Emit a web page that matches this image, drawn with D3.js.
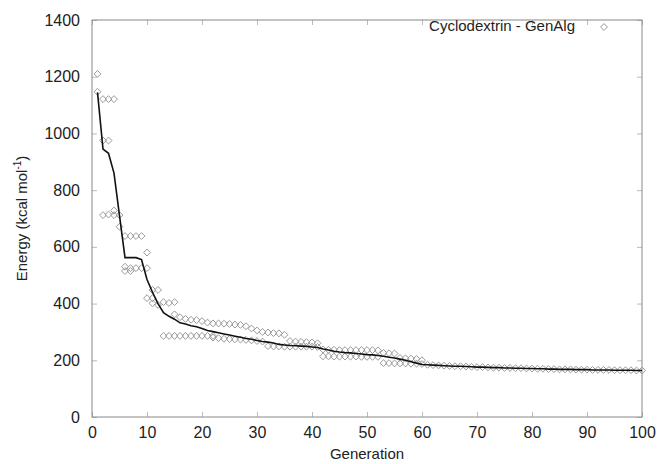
<!DOCTYPE html>
<html>
<head>
<meta charset="utf-8">
<script src="https://cdn.jsdelivr.net/npm/d3@7"></script>
<style>
  body { margin: 0; background: #fff; }
  text { font-family: "Liberation Sans", Arial, Helvetica, sans-serif; fill: #222; }
</style>
</head>
<body>
<svg width="659" height="464"></svg>
<script>
// mean energy of the population per generation (gen 1..100)
var meanEnergy = [1145, 945, 930, 860, 710, 562, 562, 562, 555, 485,
  440, 400, 368, 355, 345, 332, 328, 322, 318, 312,
  305, 301, 297, 293, 289, 285, 281, 277, 274, 270,
  266, 264, 261, 256, 254, 252, 251, 250, 249, 247,
  245, 240, 236, 232, 229, 227, 226, 224, 222, 220,
  219, 217, 214, 211, 208, 204, 200, 195, 190, 185,
  184, 183, 182, 181, 180, 179, 179, 178, 177, 176,
  176, 175, 174, 174, 173, 173, 172, 172, 171, 171,
  170, 170, 169, 169, 168, 168, 168, 167, 167, 167,
  166, 166, 166, 166, 165, 165, 165, 165, 164, 164];

// individual energies [generation, energy]
var population = [
  [1, 1210], [1, 1147],
  [2, 1121], [3, 1121], [4, 1121],
  [2, 975], [3, 975],
  [2, 712], [3, 714], [4, 728], [4, 712], [5, 712], [5, 671],
  [6, 638], [7, 638], [8, 638], [9, 638],
  [10, 580],
  [6, 530], [6, 515], [7, 525], [7, 515], [8, 525], [9, 525], [10, 525],
  [10, 419], [11, 419], [11, 448], [12, 448],
  [11, 401], [12, 395], [13, 405], [14, 402], [15, 405],
  [13, 286], [14, 286], [15, 286], [16, 286], [17, 286], [18, 286], [19, 286], [20, 286], [21, 286], [22, 286],
  [15, 362], [16, 352], [17, 346], [18, 343], [19, 342], [20, 338], [21, 333], [22, 330], [23, 330], [24, 329],
  [25, 328], [26, 326], [27, 325], [28, 320], [29, 312], [30, 305], [31, 300], [32, 298], [33, 296], [34, 295],
  [35, 290], [36, 268], [37, 266], [38, 265], [39, 264], [40, 263], [41, 260], [42, 238], [43, 237], [44, 237],
  [45, 236], [46, 236], [47, 236], [48, 236], [49, 236], [50, 236], [51, 236], [52, 235], [53, 226], [54, 225],
  [55, 224], [56, 208], [57, 207], [58, 206], [59, 205], [60, 200],
  [22, 280], [23, 278], [24, 276], [25, 275], [26, 274], [27, 273], [28, 272], [29, 270], [30, 268], [31, 266],
  [32, 250], [33, 249], [34, 249], [35, 248], [36, 248], [37, 248], [38, 248], [39, 248], [40, 248], [41, 247],
  [42, 214], [43, 214], [44, 213], [45, 213], [46, 213], [47, 213], [48, 213], [49, 212], [50, 212], [51, 212],
  [52, 212], [53, 190], [54, 190], [55, 189], [56, 189], [57, 189], [58, 188], [59, 188], [60, 187],
  [61, 184], [62, 183], [63, 182], [64, 181], [65, 180], [66, 179], [67, 179], [68, 178], [69, 177], [70, 176],
  [71, 176], [72, 175], [73, 174], [74, 174], [75, 173], [76, 173], [77, 172], [78, 172], [79, 171], [80, 171],
  [81, 170], [82, 170], [83, 169], [84, 169], [85, 168], [86, 168], [87, 168], [88, 167], [89, 167], [90, 167],
  [91, 166], [92, 166], [93, 166], [94, 166], [95, 165], [96, 165], [97, 165], [98, 165], [99, 164], [100, 164]
];

var xTicks = [0, 10, 20, 30, 40, 50, 60, 70, 80, 90, 100];
var yTicks = [0, 200, 400, 600, 800, 1000, 1200, 1400];
var legendLabel = "Cyclodextrin - GenAlg";

var svg = d3.select("svg"),
    margin = {top: 20, right: 17, bottom: 47, left: 92},
    width = +svg.attr("width") - margin.left - margin.right,
    height = +svg.attr("height") - margin.top - margin.bottom;

var x = d3.scaleLinear().domain([0, 100]).range([0, width]);
var y = d3.scaleLinear().domain([0, 1400]).range([height, 0]);

var g = svg.append("g")
    .attr("transform", "translate(" + margin.left + "," + margin.top + ")");

// inward ticks on all four sides, gnuplot style
var tickColor = "#bbb";
g.append("g")
    .attr("transform", "translate(0," + height + ")")
    .call(d3.axisBottom(x).tickValues(xTicks).tickSizeInner(-5).tickSizeOuter(0).tickPadding(10))
    .call(function(a) { a.select(".domain").remove(); a.selectAll("line").attr("stroke", tickColor); a.selectAll("text").attr("font-size", 16).attr("fill", "#222"); });
g.append("g")
    .call(d3.axisTop(x).tickValues(xTicks).tickSizeInner(-5).tickSizeOuter(0).tickFormat(""))
    .call(function(a) { a.select(".domain").remove(); a.selectAll("line").attr("stroke", tickColor); });
g.append("g")
    .call(d3.axisLeft(y).tickValues(yTicks).tickFormat(d3.format("d")).tickSizeInner(-5).tickSizeOuter(0).tickPadding(12))
    .call(function(a) { a.select(".domain").remove(); a.selectAll("line").attr("stroke", tickColor); a.selectAll("text").attr("font-size", 16).attr("fill", "#222"); });
g.append("g")
    .attr("transform", "translate(" + width + ",0)")
    .call(d3.axisRight(y).tickValues(yTicks).tickSizeInner(-5).tickSizeOuter(0).tickFormat(""))
    .call(function(a) { a.select(".domain").remove(); a.selectAll("line").attr("stroke", tickColor); });

g.append("rect")
    .attr("width", width)
    .attr("height", height)
    .attr("fill", "none")
    .attr("stroke", "#888");

var diamond = d3.symbol().type(d3.symbolDiamond2).size(30);

g.append("g").selectAll("path")
    .data(population)
  .enter().append("path")
    .attr("d", diamond)
    .attr("transform", function(d) { return "translate(" + x(d[0]) + "," + y(d[1]) + ")"; })
    .attr("fill", "none")
    .attr("stroke", "#999")
    .attr("stroke-width", 1);

var line = d3.line()
    .x(function(d, i) { return x(i + 1); })
    .y(function(d) { return y(d); });

g.append("path")
    .datum(meanEnergy)
    .attr("fill", "none")
    .attr("stroke", "#111")
    .attr("stroke-width", 1.6)
    .attr("d", line);

// legend
g.append("text")
    .attr("x", 483)
    .attr("y", 11)
    .attr("text-anchor", "end")
    .attr("font-size", 15)
    .text(legendLabel);
g.append("path")
    .attr("d", diamond)
    .attr("transform", "translate(512,7)")
    .attr("fill", "none")
    .attr("stroke", "#999");

// axis titles
svg.append("text")
    .attr("x", margin.left + width / 2)
    .attr("y", 459)
    .attr("text-anchor", "middle")
    .attr("font-size", 15)
    .text("Generation");

var yl = svg.append("text")
    .attr("transform", "translate(27," + (margin.top + height / 2) + ") rotate(-90)")
    .attr("text-anchor", "middle")
    .attr("font-size", 15);
yl.append("tspan").text("Energy (kcal mol");
yl.append("tspan").attr("dy", -6).attr("font-size", 10).text("-1");
yl.append("tspan").attr("dy", 6).text(")");
</script>
</body>
</html>
